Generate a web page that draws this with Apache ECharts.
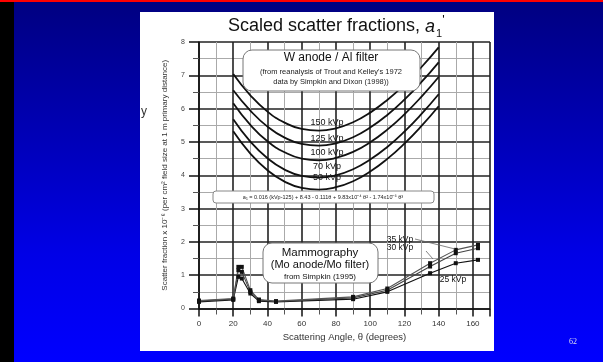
<!DOCTYPE html>
<html><head><meta charset="utf-8">
<script src="https://cdn.jsdelivr.net/npm/echarts@6/dist/echarts.min.js"></script>
<style>
html,body{margin:0;padding:0;}
#bg{position:absolute;left:0;top:0;width:603px;height:362px;background:linear-gradient(#000080 0%,#0000e6 70%,#0000ff 100%);}
#strip{position:absolute;left:0;top:0;width:14px;height:362px;background:#000;}
#red{position:absolute;left:0;top:0;width:603px;height:2px;background:#ff0000;}
#panel{position:absolute;left:140px;top:12px;width:354px;height:339px;background:#fff;}
#c{position:absolute;left:0;top:0;width:603px;height:362px;}
</style>
</head><body>
<div id="bg"></div><div id="strip"></div><div id="red"></div><div id="panel"></div>
<div id="c"></div>
<script>
// W anode / Al filter curves (scaled scatter fraction x1e-6) vs scattering angle
const wAngles = [20, 30, 40, 50, 60, 70, 80, 90, 100, 110, 120, 130, 140];
const w150 = [7.04, 6.40, 5.91, 5.58, 5.39, 5.34, 5.41, 5.59, 5.88, 6.26, 6.72, 7.25, 7.84];
const w125 = [6.55, 5.94, 5.46, 5.13, 4.94, 4.89, 4.96, 5.14, 5.43, 5.81, 6.27, 6.80, 7.39];
const w100 = [6.16, 5.51, 5.02, 4.69, 4.50, 4.45, 4.52, 4.70, 4.99, 5.37, 5.83, 6.36, 6.95];
const w70  = [5.68, 5.01, 4.51, 4.17, 3.98, 3.93, 4.00, 4.18, 4.47, 4.85, 5.31, 5.84, 6.43];
const w50  = [5.32, 4.65, 4.15, 3.81, 3.62, 3.57, 3.64, 3.82, 4.11, 4.49, 4.95, 5.48, 6.07];
const wNames = ['150 kVp', '125 kVp', '100 kVp', '70 kVp', '50 kVp'];

// Mammography (Mo anode / Mo filter)
const mAngles = [0, 20, 23, 25, 30, 35, 45, 90, 110, 135, 150, 163];
const m25 = [0.20, 0.26, 0.95, 0.90, 0.45, 0.22, 0.20, 0.28, 0.50, 1.06, 1.36, 1.46];
const m30 = [0.22, 0.28, 1.15, 1.10, 0.50, 0.25, 0.21, 0.32, 0.55, 1.26, 1.66, 1.81];
const m35 = [0.24, 0.30, 1.25, 1.25, 0.55, 0.27, 0.22, 0.35, 0.60, 1.36, 1.76, 1.91];
const mNames = ['25 kVp', '30 kVp', '35 kVp'];

const xTicks = [0, 20, 40, 60, 80, 100, 120, 140, 160];
const yTicks = [0, 1, 2, 3, 4, 5, 6, 7, 8];

const F = 'Liberation Sans, Arial, sans-serif';
const pair = (xs, ys) => xs.map((x, i) => [x, ys[i]]);

const wSeries = [w150, w125, w100, w70, w50].map((d, i) => ({
  name: wNames[i], type: 'line', smooth: true, symbol: 'none',
  lineStyle: { color: '#111', width: 1.8 }, data: pair(wAngles, d), z: 3
}));
const mColors = ['#111', '#444', '#555'];
const mSeries = [m25, m30, m35].map((d, i) => ({
  name: mNames[i], type: 'line', symbol: 'rect', symbolSize: 4,
  itemStyle: { color: '#111' },
  lineStyle: { color: mColors[i], width: 1.1 }, data: pair(mAngles, d), z: 4
}));

const chart = echarts.init(document.getElementById('c'), null, { renderer: 'canvas' });
chart.setOption({
  backgroundColor: 'transparent',
  animation: false,
  grid: { left: 199, top: 42, width: 291, height: 266.5, containLabel: false },
  xAxis: {
    type: 'value', min: 0, max: 170, interval: 20,
    axisLine: { show: true, onZero: false, lineStyle: { color: '#111', width: 1.5 } },
    axisTick: { show: true, inside: false, length: 8, lineStyle: { color: '#111', width: 1.5 } },
    minorTick: { show: true, splitNumber: 2, length: 6, lineStyle: { color: '#555', width: 1 } },
    splitLine: { show: true, lineStyle: { color: '#222', width: 1.6 } },
    minorSplitLine: { show: true, lineStyle: { color: '#aaa', width: 1 } },
    axisLabel: { color: '#333', fontSize: 8, fontFamily: F, margin: 11, showMaxLabel: false,
      formatter: v => xTicks.includes(v) ? String(v) : '' },
    name: 'Scattering Angle, θ (degrees)', nameLocation: 'middle', nameGap: 23,
    nameTextStyle: { color: '#333', fontSize: 9.5, fontFamily: F }
  },
  yAxis: {
    type: 'value', min: 0, max: 8, interval: 1,
    axisLine: { show: true, lineStyle: { color: '#111', width: 1.5 } },
    axisTick: { show: true, length: 10, lineStyle: { color: '#111', width: 1.5 } },
    minorTick: { show: true, splitNumber: 2, length: 6, lineStyle: { color: '#555', width: 1 } },
    splitLine: { show: true, lineStyle: { color: '#222', width: 1.6 } },
    minorSplitLine: { show: true, lineStyle: { color: '#aaa', width: 1 } },
    axisLabel: { color: '#444', fontSize: 7, fontFamily: F, margin: 14,
      formatter: v => yTicks.includes(v) ? String(v) : '' },
    name: 'Scatter fraction x 10⁻⁶ (per cm² field size at 1 m primary distance)',
    nameLocation: 'middle', nameGap: 30, nameRotate: 90,
    nameTextStyle: { color: '#333', fontSize: 8, fontFamily: F }
  },
  series: [...wSeries, ...mSeries],
  graphic: [
    { type: 'text', left: 'center', z: 20, style: { x: 0, y: 0, text: '', fill: '#000' } },
    // Title
    { type: 'text', x: 228, y: 14, z: 20, style: {
      text: '{t|Scaled scatter fractions, }{a|a}{s|1}{p|\'}',
      rich: {
        t: { fontSize: 18, fontFamily: F, fill: '#111' },
        a: { fontSize: 18, fontFamily: F, fontStyle: 'italic', fill: '#111' },
        s: { fontSize: 11, fontFamily: F, fill: '#111', padding: [14, 0, 0, 1] },
        p: { fontSize: 13, fontFamily: F, fill: '#111', padding: [0, 0, 12, 0] }
      } } },
    { type: 'text', x: 141, y: 106, z: 20, style: { text: 'y', fontSize: 12, fontFamily: F, fill: '#333' } },
    { type: 'text', x: 569, y: 338, z: 20, style: { text: '62', fontSize: 8, fontFamily: 'Liberation Serif, serif', fill: '#dde' } },
    // W anode box
    { type: 'rect', z: 10, shape: { x: 243, y: 50, width: 177, height: 41, r: 9 },
      style: { fill: '#fff', stroke: '#777', lineWidth: 1 } },
    { type: 'text', z: 11, x: 331, y: 58, style: { text: 'W anode / Al filter', fontSize: 12, fontFamily: F, fill: '#111', align: 'center', verticalAlign: 'middle' } },
    { type: 'text', z: 11, x: 331, y: 72, style: { text: '(from reanalysis of Trout and Kelley\'s 1972', fontSize: 7.5, fontFamily: F, fill: '#222', align: 'center', verticalAlign: 'middle' } },
    { type: 'text', z: 11, x: 331, y: 82, style: { text: 'data by Simpkin and Dixon (1998))', fontSize: 7.5, fontFamily: F, fill: '#222', align: 'center', verticalAlign: 'middle' } },
    // kVp labels
    { type: 'text', z: 11, x: 327, y: 123, style: { text: '150 kVp', fontSize: 9, fontFamily: F, fill: '#111', align: 'center', verticalAlign: 'middle' } },
    { type: 'text', z: 11, x: 327, y: 139, style: { text: '125 kVp', fontSize: 9, fontFamily: F, fill: '#111', align: 'center', verticalAlign: 'middle' } },
    { type: 'text', z: 11, x: 327, y: 153, style: { text: '100 kVp', fontSize: 9, fontFamily: F, fill: '#111', align: 'center', verticalAlign: 'middle' } },
    { type: 'text', z: 11, x: 327, y: 167, style: { text: '70 kVp', fontSize: 9, fontFamily: F, fill: '#111', align: 'center', verticalAlign: 'middle' } },
    { type: 'text', z: 11, x: 327, y: 178, style: { text: '50 kVp', fontSize: 9, fontFamily: F, fill: '#111', align: 'center', verticalAlign: 'middle' } },
    // Equation box
    { type: 'rect', z: 10, shape: { x: 213, y: 191, width: 221, height: 12, r: 3 },
      style: { fill: '#fff', stroke: '#888', lineWidth: 1 } },
    { type: 'text', z: 11, x: 323, y: 197, style: { text: 'a₁ = 0.016 (kVp-125) + 8.43 - 0.111θ + 9.83x10⁻⁴ θ² - 1.74x10⁻⁶ θ³', fontSize: 5.5, fontFamily: F, fill: '#222', align: 'center', verticalAlign: 'middle' } },
    // Mammography box
    { type: 'rect', z: 10, shape: { x: 263, y: 243, width: 115, height: 40, r: 9 },
      style: { fill: '#fff', stroke: '#777', lineWidth: 1 } },
    { type: 'text', z: 11, x: 320, y: 253, style: { text: 'Mammography', fontSize: 11.5, fontFamily: F, fill: '#111', align: 'center', verticalAlign: 'middle' } },
    { type: 'text', z: 11, x: 320, y: 265, style: { text: '(Mo anode/Mo filter)', fontSize: 11, fontFamily: F, fill: '#111', align: 'center', verticalAlign: 'middle' } },
    { type: 'text', z: 11, x: 320, y: 277, style: { text: 'from Simpkin (1995)', fontSize: 8, fontFamily: F, fill: '#111', align: 'center', verticalAlign: 'middle' } },
    // Mammo kVp labels and leaders
    { type: 'text', z: 11, x: 400, y: 240, style: { text: '35 kVp', fontSize: 8.5, fontFamily: F, fill: '#111', align: 'center', verticalAlign: 'middle' } },
    { type: 'text', z: 11, x: 400, y: 248, style: { text: '30 kVp', fontSize: 8.5, fontFamily: F, fill: '#111', align: 'center', verticalAlign: 'middle' } },
    { type: 'text', z: 11, x: 453, y: 280, style: { text: '25 kVp', fontSize: 8.5, fontFamily: F, fill: '#111', align: 'center', verticalAlign: 'middle' } },
    { type: 'line', z: 11, shape: { x1: 415, y1: 239, x2: 455, y2: 249 }, style: { stroke: '#666', lineWidth: 0.8 } },
    { type: 'line', z: 11, shape: { x1: 426, y1: 251, x2: 433, y2: 259 }, style: { stroke: '#666', lineWidth: 0.8 } }
  ]
});
</script>
</body></html>
